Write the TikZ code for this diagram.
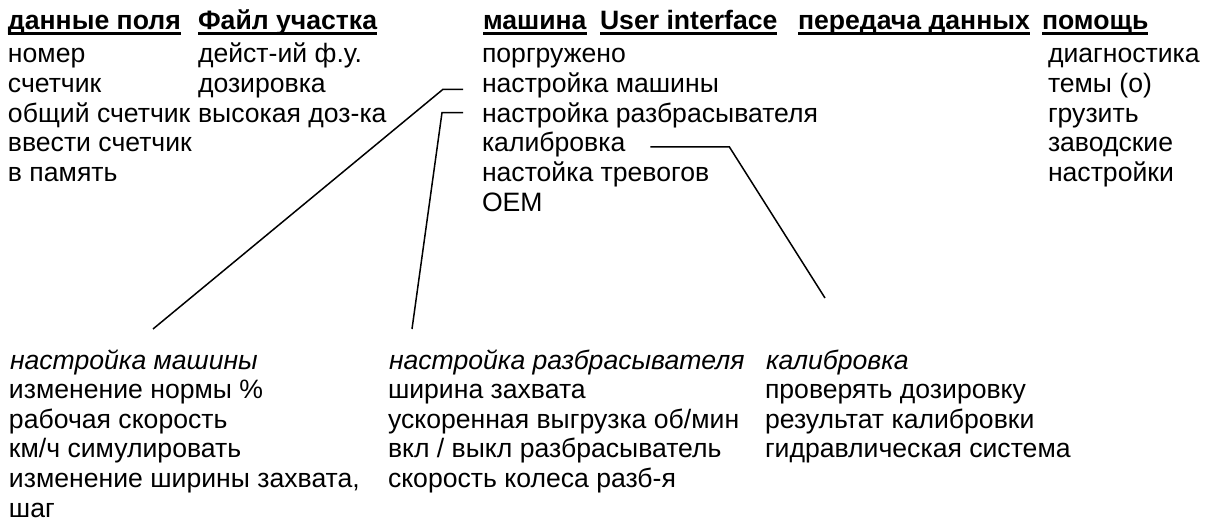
\documentclass[tikz,border=0pt]{standalone}
\usepackage{fontspec}
\setmainfont{Liberation Sans}
\begin{document}
\begin{tikzpicture}[x=1pt,y=-1pt,
  txt/.style={anchor=base west,inner sep=0pt,outer sep=0pt,font=\fontsize{26.6}{30}\selectfont},
  hdr/.style={txt,font=\fontsize{26.6}{30}\selectfont\bfseries},
  ttl/.style={txt,font=\fontsize{26.6}{30}\selectfont\itshape},
  uline/.style={line width=2.6pt},
  conn/.style={line width=1.5pt}]
\useasboundingbox (0,0) rectangle (1207,524);

% headers
\node[hdr] (h1) at (8,30) {данные поля};
\node[hdr] (h2) at (198,30) {Файл участка};
\node[hdr] (h3) at (483,30) {машина};
\node[hdr] (h4) at (600,30) {User interface};
\node[hdr] (h5) at (798,30) {передача данных};
\node[hdr] (h6) at (1042,30) {помощь};
\foreach \h in {h1,h2,h3,h4,h5,h6}
  \draw[uline] ([yshift=-3.5pt]\h.base west) -- ([yshift=-3.5pt]\h.base east);

% column: данные поля
\node[txt] (a1) at (8,62.5) {номер};
\node[txt] (a2) at (8,92.3) {счетчик};
\node[txt] (a3) at (8,122.1) {общий счетчик};
\node[txt] (a4) at (8,151.9) {ввести счетчик};
\node[txt] (a5) at (8,181.7) {в память};

% column: Файл участка
\node[txt] (b1) at (198,62.5) {дейст-ий ф.у.};
\node[txt] (b2) at (198,92.3) {дозировка};
\node[txt] (b3) at (198,122.1) {высокая доз-ка};

% column: машина
\node[txt] (m1) at (482,62.5) {поргружено};
\node[txt] (m2) at (482,92.3) {настройка машины};
\node[txt] (m3) at (482,122.1) {настройка разбрасывателя};
\node[txt] (m4) at (482,151.9) {калибровка};
\node[txt] (m5) at (482,181.7) {настойка тревогов};
\node[txt] (m6) at (482,211.5) {OEM};

% column: помощь
\node[txt] (p1) at (1048,62.5) {диагностика};
\node[txt] (p2) at (1048,92.3) {темы (о)};
\node[txt] (p3) at (1048,122.1) {грузить};
\node[txt] (p4) at (1048,151.9) {заводские};
\node[txt] (p5) at (1048,181.7) {настройки};

% bottom: настройка машины
\node[ttl] (s1) at (10,369) {настройка машины};
\node[txt] (s2) at (9,398.6) {изменение нормы \%};
\node[txt] (s3) at (9,428.2) {рабочая скорость};
\node[txt] (s4) at (9,457.8) {км/ч симулировать};
\node[txt] (s5) at (9,487.4) {изменение ширины захвата,};
\node[txt] (s6) at (9,517) {шаг};

% bottom: настройка разбрасывателя
\node[ttl] (r1) at (389,369) {настройка разбрасывателя};
\node[txt] (r2) at (388,398.6) {ширина захвата};
\node[txt] (r3) at (388,428.2) {ускоренная выгрузка об/мин};
\node[txt] (r4) at (388,457.8) {вкл / выкл разбрасыватель};
\node[txt] (r5) at (388,487.4) {скорость колеса разб-я};

% bottom: калибровка
\node[ttl] (k1) at (766,369) {калибровка};
\node[txt] (k2) at (765,398.6) {проверять дозировку};
\node[txt] (k3) at (765,428.2) {результат калибровки};
\node[txt] (k4) at (765,457.8) {гидравлическая система};

% connectors
\coordinate (e1) at (153,329);
\coordinate (e2) at (412,329);
\coordinate (e3) at (825,298);
\draw[conn] ([xshift=-19pt,yshift=3pt]m2.base west) -- ++(-20,0) -- (e1);
\draw[conn] ([xshift=-19pt,yshift=9.5pt]m3.base west) -- ++(-21,0) -- (e2);
\draw[conn] ([xshift=25pt,yshift=5pt]m4.base east) -- ++(79,0) -- (e3);
\end{tikzpicture}
\end{document}
